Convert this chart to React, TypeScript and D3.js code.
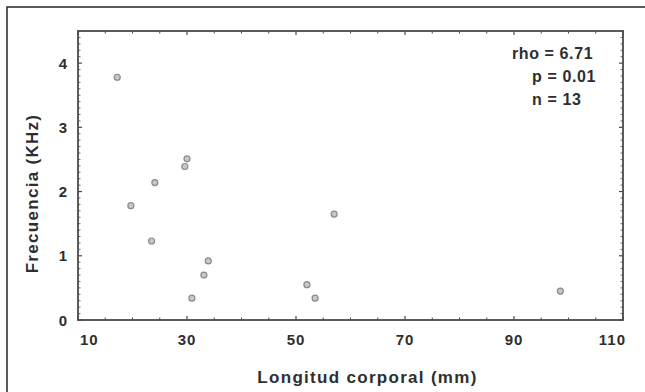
import React from "react";
import * as d3 from "d3";

// body length (mm) vs call frequency (kHz)
const longitud = [17.2, 19.7, 24.1, 23.5, 30.0, 29.6, 30.9, 33.1, 33.9, 52.0, 53.5, 57.0, 98.5];
const frecuencia = [3.78, 1.78, 2.14, 1.23, 2.51, 2.39, 0.34, 0.7, 0.92, 0.55, 0.34, 1.65, 0.45];

const xTicks = [10, 30, 50, 70, 90, 110];
const yTicks = [0, 1, 2, 3, 4];
const statsLines = ["rho = 6.71", "p = 0.01", "n = 13"];

const width = 645;
const height = 392;
const frameCol = "#4a4a4a";

const App = () => {
  const x = d3.scaleLinear().domain([10, 110]).range([78, 623]);
  const y = d3.scaleLinear().domain([0, 4.5]).range([320, 31]);

  const xMinor = d3.range(10, 110.01, 5).filter((d) => d % 20 !== 10);
  const yMinor = d3.range(0, 4.501, 0.1).filter((d) => Math.abs(d - Math.round(d)) > 0.01);

  const [x0, x1] = x.range();
  const [y0, y1] = y.range();

  const txt = {
    fontFamily: "'Liberation Sans', Arial, sans-serif",
    fontWeight: "bold" as const,
    fill: "#2e2e2e",
  };

  return (
    <svg
      width={width}
      height={height}
      style={{ position: "absolute", left: 0, top: 0, background: "#fff" }}
    >
      {/* outer frame, runs off the right/bottom of the picture */}
      <rect x={7} y={7} width={700} height={450} fill="none" stroke="#333" strokeWidth={1.6} />

      {/* plot box */}
      <rect x={x0} y={y1} width={x1 - x0} height={y0 - y1} fill="none" stroke={frameCol} strokeWidth={1.8} />

      {/* x ticks, bottom and top */}
      {xTicks.map((d) => (
        <g key={"xt" + d}>
          <line x1={x(d)} x2={x(d)} y1={y0} y2={y0 - 4} stroke={frameCol} strokeWidth={1.2} />
          <line x1={x(d)} x2={x(d)} y1={y1} y2={y1 + 4} stroke={frameCol} strokeWidth={1.2} />
        </g>
      ))}
      {xMinor.map((d) => (
        <g key={"xm" + d}>
          <line x1={x(d)} x2={x(d)} y1={y0} y2={y0 - 2.5} stroke={frameCol} strokeWidth={1} />
          <line x1={x(d)} x2={x(d)} y1={y1} y2={y1 + 2.5} stroke={frameCol} strokeWidth={1} />
        </g>
      ))}

      {/* y ticks, left and right */}
      {yTicks.map((d) => (
        <g key={"yt" + d}>
          <line x1={x0} x2={x0 + 4} y1={y(d)} y2={y(d)} stroke={frameCol} strokeWidth={1.2} />
          <line x1={x1} x2={x1 - 4} y1={y(d)} y2={y(d)} stroke={frameCol} strokeWidth={1.2} />
        </g>
      ))}
      {yMinor.map((d) => (
        <g key={"ym" + d.toFixed(1)}>
          <line x1={x0} x2={x0 + 2.5} y1={y(d)} y2={y(d)} stroke={frameCol} strokeWidth={0.8} />
          <line x1={x1} x2={x1 - 2.5} y1={y(d)} y2={y(d)} stroke={frameCol} strokeWidth={0.8} />
        </g>
      ))}

      {/* tick labels */}
      {xTicks.map((d, i) => (
        <text
          key={"xl" + d}
          x={i === 0 ? x(d) + 2 : i === xTicks.length - 1 ? x(d) + 3 : x(d)}
          y={345}
          textAnchor={i === 0 ? "start" : i === xTicks.length - 1 ? "end" : "middle"}
          fontSize={15}
          letterSpacing={1}
          {...txt}
        >
          {d}
        </text>
      ))}
      {yTicks.map((d) => (
        <text key={"yl" + d} x={67} y={y(d) + 5.5} textAnchor="end" fontSize={15} {...txt}>
          {d}
        </text>
      ))}

      {/* axis titles */}
      <text x={(x0 + x1) / 2 + 17} y={383} textAnchor="middle" fontSize={17} letterSpacing={1.3} {...txt}>
        Longitud corporal (mm)
      </text>
      <text
        transform={`translate(38, ${(y0 + y1) / 2 + 18}) rotate(-90)`}
        textAnchor="middle"
        fontSize={17}
        letterSpacing={1.3}
        {...txt}
      >
        Frecuencia (KHz)
      </text>

      {/* stats */}
      {statsLines.map((s, i) => (
        <text key={s} x={i === 0 ? 512 : 532} y={59 + i * 23} fontSize={16} letterSpacing={0.6} {...txt}>
          {s}
        </text>
      ))}

      {/* points */}
      {longitud.map((d, i) => (
        <circle key={"p" + i} cx={x(d)} cy={y(frecuencia[i])} r={3} fill="#c8c8c8" stroke="#8a8a8a" strokeWidth={1.2} />
      ))}
    </svg>
  );
};

export default App;
